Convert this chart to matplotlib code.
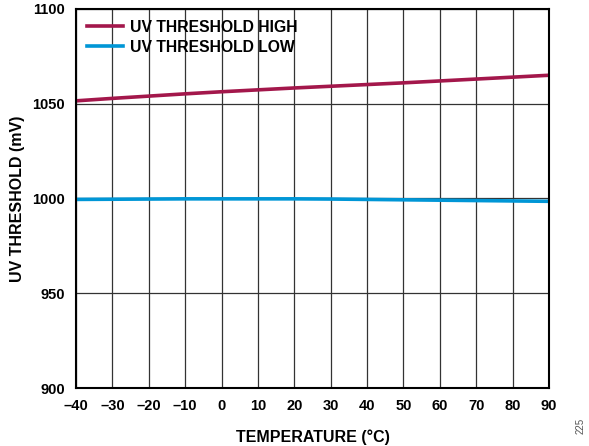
import matplotlib.pyplot as plt
import numpy as np

temps = [-40, -30, -20, -10, 0, 10, 20, 30, 40, 50, 60, 70, 80, 90]
uv_high = [1051.5, 1052.8, 1054.0, 1055.2, 1056.3, 1057.3, 1058.3, 1059.2, 1060.1, 1061.0, 1062.0, 1063.0, 1064.0, 1065.0]
uv_low = [999.5, 999.6, 999.7, 999.8, 999.8, 999.8, 999.8, 999.7, 999.5, 999.3, 999.1, 998.9, 998.7, 998.5]
xticks = [-40, -30, -20, -10, 0, 10, 20, 30, 40, 50, 60, 70, 80, 90]
xtick_labels = ['\u201340', '\u201330', '\u201320', '\u201310', '0', '10', '20', '30', '40', '50', '60', '70', '80', '90']
yticks = [900, 950, 1000, 1050, 1100]

plt.rcParams['font.family'] = ['Liberation Sans', 'DejaVu Sans']

fig = plt.figure(figsize=(5.89, 4.46), dpi=100)
ax = fig.add_axes([0.129, 0.130, 0.803, 0.850])

ax.plot(temps, uv_high, color='#A3174B', lw=2.6, label='UV THRESHOLD HIGH')
ax.plot(temps, uv_low, color='#0096D6', lw=2.6, label='UV THRESHOLD LOW')

ax.set_xlim(-40, 90)
ax.set_ylim(900, 1100)
ax.set_xticks(xticks)
ax.set_xticklabels(xtick_labels)
ax.set_yticks(yticks)
ax.grid(True, color='#333333', lw=0.9)
ax.set_axisbelow(True)
ax.tick_params(length=0, pad=8, labelsize=10.5)
for lab in ax.get_xticklabels() + ax.get_yticklabels():
    lab.set_fontweight('bold')
for s in ax.spines.values():
    s.set_linewidth(1.5)
    s.set_color('black')

ax.set_xlabel('TEMPERATURE (\u00b0C)', fontsize=11.5, fontweight='bold', labelpad=12)
ax.set_ylabel('UV THRESHOLD (mV)', fontsize=11.5, fontweight='bold', labelpad=5)

leg = ax.legend(loc='upper left', frameon=False, prop={'weight': 'bold', 'size': 11.3},
                handlelength=2.3, handletextpad=0.45, borderaxespad=0.3, labelspacing=0.3)

fig.text(0.985, 0.045, '225', rotation=90, fontsize=7, color='#555555', ha='center', va='center')

fig.savefig('out.png', dpi=100)
